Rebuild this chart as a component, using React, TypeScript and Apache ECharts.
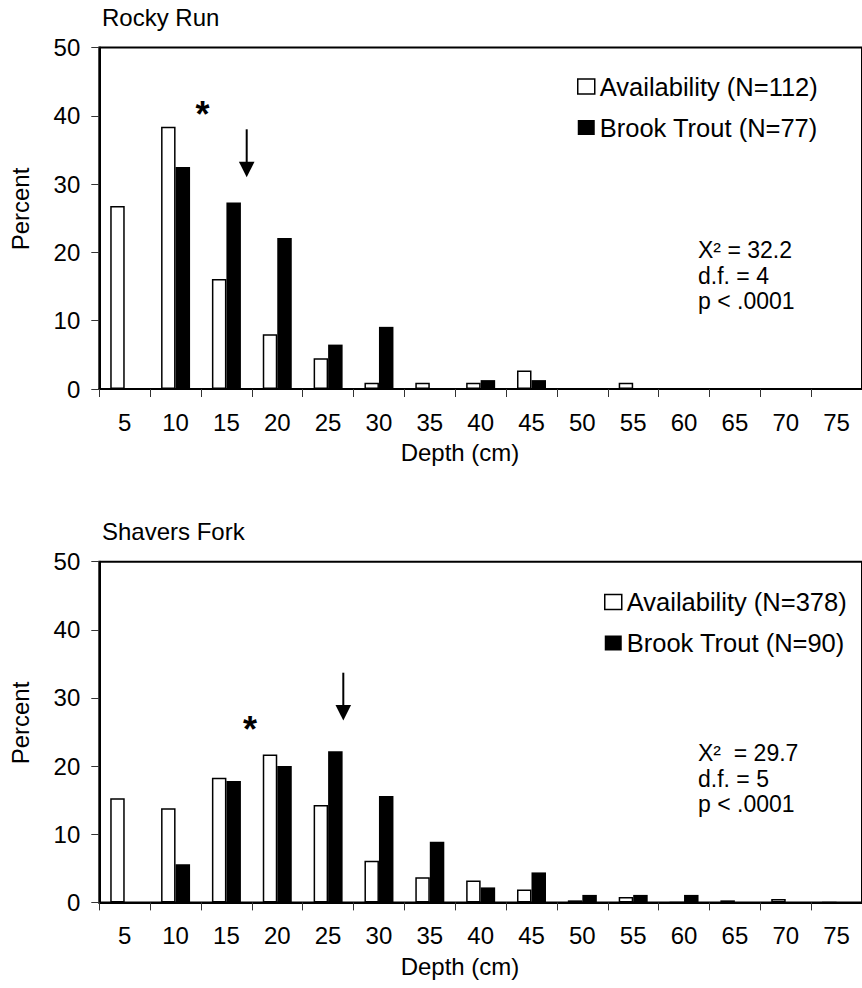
import React, { useEffect, useRef } from 'react';
import * as echarts from 'echarts';

// ---------- data ----------
const depthCategories = ['5', '10', '15', '20', '25', '30', '35', '40', '45', '50', '55', '60', '65', '70', '75'];
const rockyAvailability = [26.8, 38.4, 16.1, 8.0, 4.5, 0.9, 0.9, 0.9, 2.7, 0, 0.9, 0, 0, 0, 0];
const rockyBrookTrout = [0, 32.5, 27.3, 22.1, 6.5, 9.1, 0, 1.3, 1.3, 0, 0, 0, 0, 0, 0];
const shaversAvailability = [15.3, 13.8, 18.3, 21.7, 14.3, 6.1, 3.7, 3.2, 1.9, 0.3, 0.8, 0, 0.3, 0.5, 0];
const shaversBrookTrout = [0, 5.6, 17.8, 20.0, 22.2, 15.6, 8.9, 2.2, 4.4, 1.1, 1.1, 1.1, 0, 0, 0];
const panelTitles = ['Rocky Run', 'Shavers Fork'];
const availabilityNames = ['Availability (N=112)', 'Availability (N=378)'];
const brookTroutNames = ['Brook Trout (N=77)', 'Brook Trout (N=90)'];
const statLines = [
  ['X\u00B2 = 32.2', 'd.f. = 4', 'p < .0001'],
  ['X\u00B2  = 29.7', 'd.f. = 5', 'p < .0001'],
];
const xAxisTitle = 'Depth (cm)';
const yAxisTitle = 'Percent';
const yMin = 0;
const yMax = 50;
const yInterval = 10;

const FONT = '"Liberation Sans", Arial, sans-serif';

// ---------- layout ----------
const panels = [
  {
    top: 47.5, height: 341.5,
    legendLeft: 577, legendTop: 73.5,
    statsX: 698, statsY: [250, 275.5, 301],
    star: [202.5, 114], arrowX: 246.7, arrowTop: 129.3, arrowHead: 161.7, arrowTip: 177.3,
    titleY: 17, xTitleY: 452, yTitleY: 209,
  },
  {
    top: 561.7, height: 340.7,
    legendLeft: 604, legendTop: 589,
    statsX: 698, statsY: [753, 778.5, 804],
    star: [250, 729], arrowX: 343.3, arrowTop: 672.7, arrowHead: 705, arrowTip: 720.5,
    titleY: 531, xTitleY: 966, yTitleY: 723,
  },
];
const gridLeft = 99.3;
const gridWidth = 770;

export default function App() {
  const ref = useRef<HTMLDivElement>(null);

  useEffect(() => {
    if (!ref.current) return;
    const chart = echarts.init(ref.current, undefined, { renderer: 'svg' });

    const availSets = [rockyAvailability, shaversAvailability];
    const brookSets = [rockyBrookTrout, shaversBrookTrout];

    const grids: any[] = [];
    const xAxes: any[] = [];
    const yAxes: any[] = [];
    const series: any[] = [];
    const legends: any[] = [];
    const graphics: any[] = [];

    panels.forEach((p, i) => {
      grids.push({
        left: gridLeft, top: p.top, width: gridWidth, height: p.height,
        show: true, borderColor: '#000', borderWidth: 2, backgroundColor: 'transparent',
        containLabel: false,
      });
      xAxes.push({
        type: 'category', gridIndex: i, data: depthCategories, boundaryGap: true,
        axisLine: { show: true, lineStyle: { color: '#000', width: 2 } },
        axisTick: { show: true, inside: false, length: 8, interval: 0, alignWithLabel: false, lineStyle: { color: '#333', width: 1 } },
        axisLabel: { interval: 0, color: '#000', fontSize: 24, fontFamily: FONT, margin: 21 },
        splitLine: { show: false },
      });
      yAxes.push({
        type: 'value', gridIndex: i, min: yMin, max: yMax, interval: yInterval,
        axisLine: { show: true, lineStyle: { color: '#000', width: 2 } },
        axisTick: { show: true, inside: false, length: 8, lineStyle: { color: '#333', width: 1 } },
        axisLabel: { color: '#000', fontSize: 24, fontFamily: FONT, margin: 19 },
        splitLine: { show: false },
      });
      series.push({
        type: 'bar', name: availabilityNames[i], xAxisIndex: i, yAxisIndex: i,
        data: availSets[i], barWidth: 14.5, barGap: '0%',
        itemStyle: { color: '#fff', borderColor: '#000', borderWidth: 1.5 },
      });
      series.push({
        type: 'bar', name: brookTroutNames[i], xAxisIndex: i, yAxisIndex: i,
        data: brookSets[i], barWidth: 14.5, barGap: '0%',
        itemStyle: { color: '#000' },
      });
      legends.push({
        orient: 'vertical', left: p.legendLeft, top: p.legendTop, padding: 0,
        itemWidth: 17, itemHeight: 15, itemGap: 15, icon: 'rect',
        textStyle: { color: '#000', fontSize: 25.5, fontFamily: FONT },
        data: [
          { name: availabilityNames[i], itemStyle: { color: '#fff', borderColor: '#000', borderWidth: 1.5 } },
          { name: brookTroutNames[i], itemStyle: { color: '#000', borderWidth: 0 } },
        ],
        selectedMode: false,
      });

      graphics.push({
        type: 'text', left: 102, top: p.titleY - 12,
        style: { text: panelTitles[i], fill: '#000', font: `24px ${FONT}` },
      });
      graphics.push({
        type: 'text', x: 460, y: p.xTitleY,
        style: { text: xAxisTitle, fill: '#000', font: `24px ${FONT}`, align: 'center', verticalAlign: 'middle' },
      });
      graphics.push({
        type: 'text', x: 20, y: p.yTitleY, rotation: Math.PI / 2,
        style: { text: yAxisTitle, fill: '#000', font: `24px ${FONT}`, align: 'center', verticalAlign: 'middle' },
      });
      statLines[i].forEach((line, k) => {
        graphics.push({
          type: 'text', x: p.statsX, y: p.statsY[k],
          style: { text: line, fill: '#000', font: `23px ${FONT}`, align: 'left', verticalAlign: 'middle' },
        });
      });
      graphics.push({
        type: 'text', x: p.star[0], y: p.star[1],
        style: { text: '*', fill: '#000', font: `bold 36px ${FONT}`, align: 'center', verticalAlign: 'middle' },
      });
      graphics.push({
        type: 'line',
        shape: { x1: p.arrowX, y1: p.arrowTop, x2: p.arrowX, y2: p.arrowHead + 1 },
        style: { stroke: '#000', lineWidth: 2 },
      });
      graphics.push({
        type: 'polygon',
        shape: { points: [[p.arrowX - 7.8, p.arrowHead], [p.arrowX + 7.8, p.arrowHead], [p.arrowX, p.arrowTip]] },
        style: { fill: '#000' },
      });
    });

    chart.setOption({
      animation: false,
      backgroundColor: '#fff',
      grid: grids,
      xAxis: xAxes,
      yAxis: yAxes,
      series,
      legend: legends,
      graphic: graphics,
    });

    return () => chart.dispose();
  }, []);

  return (
    <div
      ref={ref}
      style={{ position: 'absolute', left: 0, top: 0, width: 862, height: 988 }}
    />
  );
}
